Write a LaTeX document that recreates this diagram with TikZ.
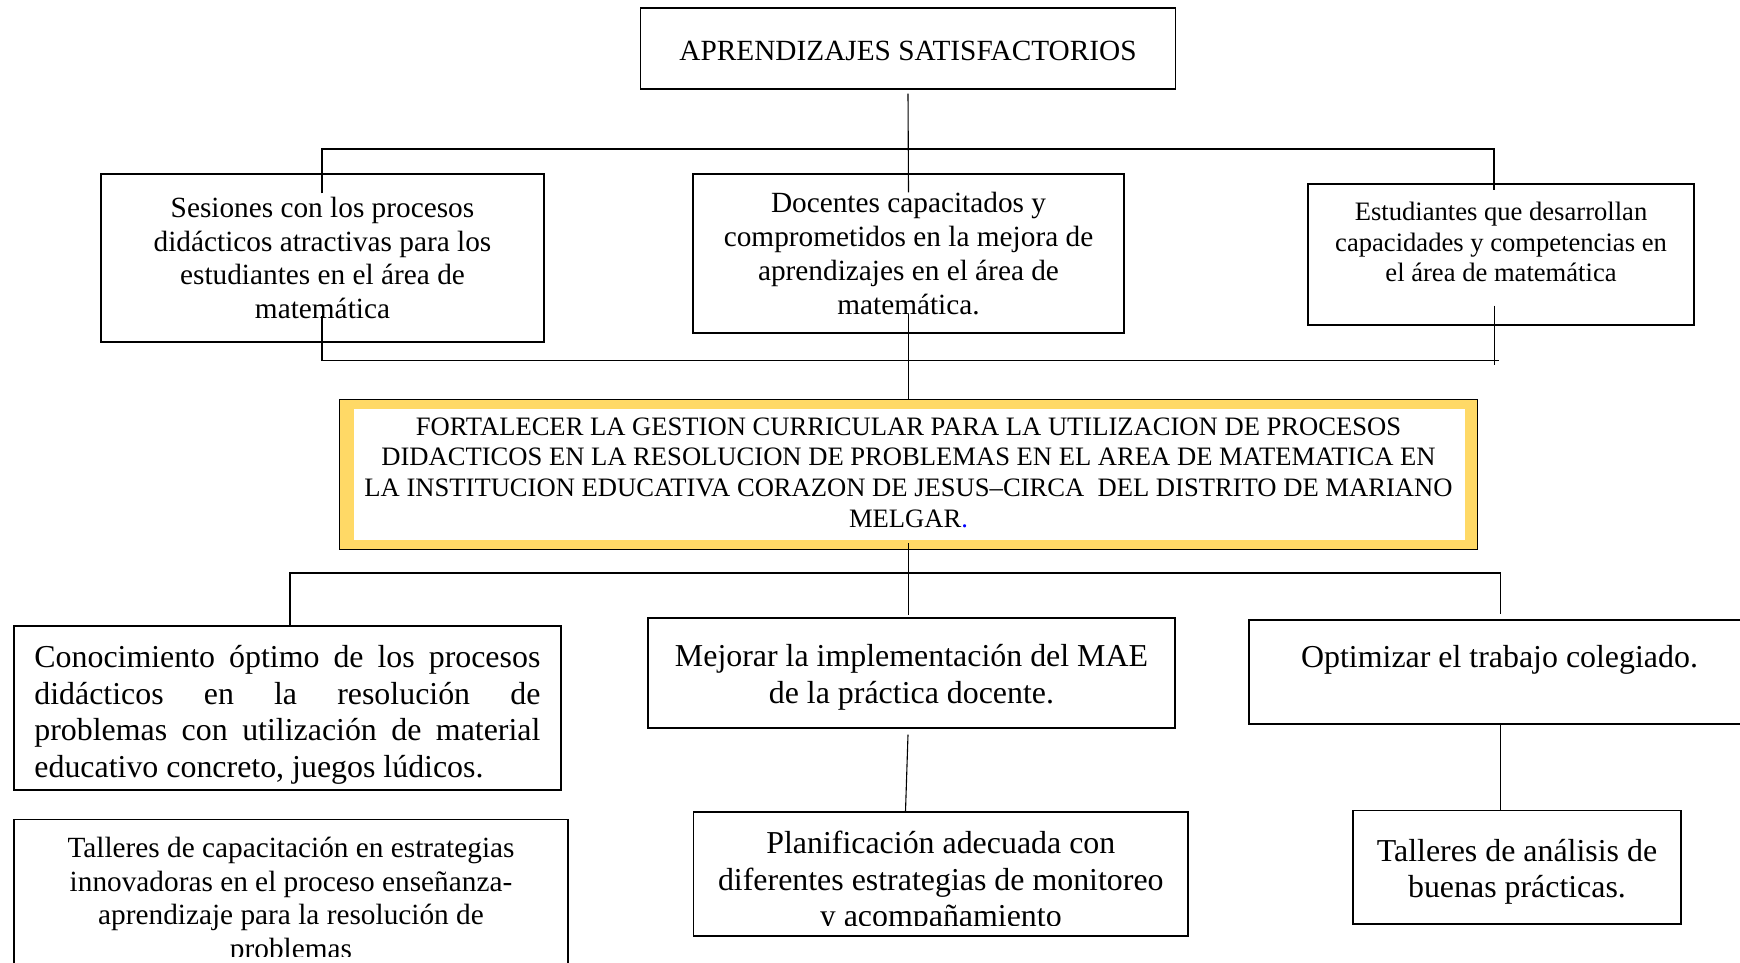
\documentclass[tikz,border=0pt]{standalone}
\usepackage{fontspec}
\setmainfont{Liberation Serif}
\usetikzlibrary{positioning}
\definecolor{dorado}{RGB}{255,217,102}

\begin{document}
\begin{tikzpicture}[x=1pt, y=-1pt,
        caja/.style={rectangle, draw, line width=1.2pt, inner sep=0pt},
        texto/.style={inner sep=0pt, align=center},
        grande/.style={font=\fontsize{31.9}{36.7}\selectfont},
        media/.style={font=\fontsize{29.3}{33.7}\selectfont},
        chica/.style={font=\fontsize{26.6}{30.6}\selectfont},
        linea/.style={line width=1.1pt}]

    \useasboundingbox (0,0) rectangle (1740,963);
    \clip (0,0) rectangle (1740,963);

    % fines
    \node (aprend) [caja, minimum width=535pt, minimum height=81pt] at (908,48.5) {};
    \node (aprendtxt) [texto, media] at ([yshift=-2pt]aprend.center) {APRENDIZAJES SATISFACTORIOS};
    \node (sesiones) [caja, media, align=center, minimum width=443pt, minimum height=168pt] at (322.5,258) {Sesiones con los procesos\\didácticos atractivas para los\\estudiantes en el área de\\matemática};
    \node (docentes) [caja, media, align=center, minimum width=431pt, minimum height=159pt] at (908.5,253.5) {Docentes capacitados y\\comprometidos en la mejora de\\aprendizajes en el área de\\matemática.};
    \node (estud) [caja, minimum width=386pt, minimum height=141pt] at (1501,254.5) {};
    \node (estudtxt) [texto, chica] at ([yshift=12.5pt]estud.center) {Estudiantes que desarrollan\\capacidades y competencias en\\el área de matemática};

    % objetivo central
    \node (fort) [caja, fill=dorado, minimum width=1137.5pt, minimum height=150pt] at (908.5,474.5) {};
    \fill[white] ([xshift=15pt,yshift=-10pt]fort.north west) rectangle ([xshift=-13pt,yshift=10pt]fort.south east);
    \node (forttxt) [texto, chica] at ([yshift=2pt]fort.center) {FORTALECER LA GESTION CURRICULAR PARA LA UTILIZACION DE PROCESOS\\DIDACTICOS EN LA RESOLUCION DE PROBLEMAS EN EL AREA DE MATEMATICA EN\\LA INSTITUCION EDUCATIVA CORAZON DE JESUS–CIRCA\ \ DEL DISTRITO DE MARIANO\\MELGAR{\color{blue}.}};

    % medios
    \node (conoc) [caja, minimum width=547pt, minimum height=164pt] at (287.4,707.9) {};
    \node (conoctxt) [texto, grande, text width=506pt, align=justify] at ([yshift=-7pt]conoc.center) {\hyphenpenalty=10000 Conocimiento óptimo de los procesos\linebreak didácticos en la resolución de\linebreak problemas con utilización de material\linebreak educativo concreto, juegos lúdicos.};
    \node (mejorar) [caja, minimum width=527pt, minimum height=110pt] at (911.5,673) {};
    \node (mejorartxt) [texto, grande] at ([yshift=-4.5pt]mejorar.center) {Mejorar la implementación del MAE\\de la práctica docente.};
    \node (optim) [caja, minimum width=511pt, minimum height=104pt] at (1504.5,672) {};
    \node (optimtxt) [texto, grande] at (1499.5,659.5) {Optimizar el trabajo colegiado.};

    \node (tcap) [caja, minimum width=554pt, minimum height=181pt] at (291,910) {};
    \begin{scope}
        \clip (tcap.north west) rectangle (tcap.east |- 0,956);
        \node (tcaptxt) [texto, media] at (291,901) {Talleres de capacitación en estrategias\\innovadoras en el proceso enseñanza-\\aprendizaje para la resolución de\\problemas};
    \end{scope}
    \node (planif) [caja, minimum width=494.4pt, minimum height=124pt] at (940.8,874) {};
    \begin{scope}
        \clip (planif.north west) rectangle ([yshift=11pt]planif.south east);
        \node (planiftxt) [texto, grande] at ([yshift=-8.5pt]planif.center) {Planificación adecuada con\\diferentes estrategias de monitoreo\\y acompañamiento};
    \end{scope}
    \node (tanal) [caja, minimum width=328pt, minimum height=113.3pt] at (1517,867.4) {};
    \node (tanaltxt) [texto, grande] at ([yshift=-4.5pt]tanal.center) {Talleres de análisis de\\buenas prácticas.};

    % conectores
    \coordinate (barra1i) at (322,149);
    \coordinate (barra1d) at (1494,149);
    \coordinate (barra2i) at (322,360.7);
    \coordinate (barra2d) at (1499,360.7);
    \coordinate (barra2v) at (1494.5,365);
    \coordinate (barra3i) at (290,573);
    \coordinate (barra3d) at (1500.5,573);

    \draw [linea] ([yshift=-4pt]aprend.south) -- ([yshift=-19pt]docentes.north);
    \draw [linea] ([yshift=-20pt]sesiones.north -| barra1i) -- (barra1i) -- (barra1d) -- ([yshift=-7pt]estud.north -| barra1d);
    \draw [linea] ([yshift=27pt]sesiones.south -| barra2i) -- (barra2i) -- (barra2d);
    \draw [linea] ([yshift=20pt]estud.south -| barra2v) -- (barra2v);
    \draw [linea] ([yshift=20pt]docentes.south) -- (fort.north);

    \draw [linea] ([yshift=7pt]fort.south) -- ([yshift=2pt]mejorar.north -| fort.south);
    \draw [linea] (conoc.north -| barra3i) -- (barra3i) -- (barra3d) -- ([yshift=5pt]optim.north -| barra3d);
    \draw [linea] ([xshift=-3.5pt,yshift=-6pt]mejorar.south) -- ([xshift=-35.3pt]planif.north);
    \draw [linea] (optim.south -| barra3d) -- (tanal.north -| barra3d);

\end{tikzpicture}
\end{document}
